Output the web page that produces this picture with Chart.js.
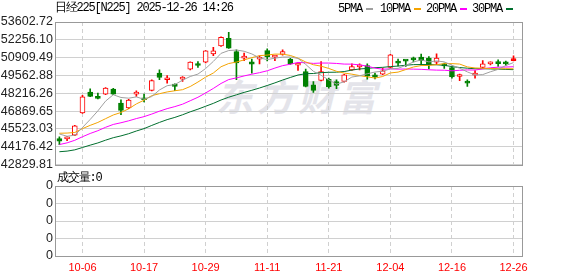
<!DOCTYPE html>
<html>
<head>
<meta charset="utf-8">
<script src="https://cdn.jsdelivr.net/npm/chart.js@4.4.1/dist/chart.umd.min.js"></script>
<style>
  body { margin: 0; background: #fff; }
  #box { position: relative; width: 578px; height: 276px; overflow: hidden; }
  .mark { position: absolute; left: 216px; top: 68px; font: italic bold 37px "Noto Sans CJK SC"; color: #e4e4ea; letter-spacing: 4px; white-space: nowrap; }
  canvas { position: absolute; left: 0; }
  .txt { position: absolute; font: 12px "Liberation Mono", monospace; letter-spacing: -1.2px; color: #000; white-space: nowrap; line-height: 14px; }
  .txt i { display: inline-block; width: 7px; height: 2px; margin-left: 4px; vertical-align: middle; }
</style>
</head>
<body>
<div id="box">
  <div class="mark">东方财富</div>
  <canvas id="kline" width="578" height="174" style="top:0"></canvas>
  <canvas id="vol" width="578" height="102" style="top:174px"></canvas>
  <div class="txt" style="left:55px;top:1px">日经225[N225] 2025-12-26 14:26</div>
  <div class="txt" style="left:338px;top:2px">5PMA<i style="background:#a0a0a0"></i></div>
  <div class="txt" style="left:380px;top:2px">10PMA<i style="background:#f4a300"></i></div>
  <div class="txt" style="left:426px;top:2px">20PMA<i style="background:#ff00ff"></i></div>
  <div class="txt" style="left:472px;top:2px">30PMA<i style="background:#006f2e"></i></div>
  <div class="txt" style="left:57px;top:171px">成交量:0</div>
</div>
<script>
const dates = ['10-01','10-02','10-03','10-06','10-07','10-08','10-09','10-10','10-14','10-15',
  '10-16','10-17','10-20','10-21','10-22','10-23','10-24','10-27','10-28','10-29',
  '10-30','10-31','11-04','11-05','11-06','11-07','11-10','11-11','11-12','11-13',
  '11-14','11-17','11-18','11-19','11-20','11-21','11-25','11-26','11-27','11-28',
  '12-01','12-02','12-03','12-04','12-05','12-08','12-09','12-10','12-11','12-12',
  '12-15','12-16','12-17','12-18','12-19','12-22','12-23','12-24','12-25','12-26'];

const open = [44789,44767,45038,46725,48307,47953,48156,48533,47478,47102,
  48156,47855,48428,49738,49234,48910,49286,50040,50439,50567,
  51192,51795,52375,51365,50868,50590,50793,51441,50944,51155,
  50793,50341,49859,48857,49181,49271,49106,49106,49987,50213,
  50311,49610,49663,50160,50575,50688,50793,50944,50868,50575,
  50341,50160,49482,49060,49588,50160,50439,50537,50514,50680];
const high = [44917,44940,45800,48050,48556,48232,48650,48580,47727,47750,
  48405,48156,49230,49987,49558,48932,49482,50600,50612,51450,
  51697,52480,52827,51494,51245,50793,51042,51569,51064,51494,
  50850,50537,50040,49106,50612,49362,49234,49650,50439,50439,
  50439,49738,50115,51150,50793,50700,50944,51170,50989,51192,
  50492,50200,49663,49234,49934,50688,50600,50740,50640,51042];
const low = [44337,44638,45000,46700,47950,47780,48100,48100,46597,47050,
  47976,47554,48400,49234,48985,48405,49106,49987,50160,50500,
  51064,51750,51600,49234,50688,49738,50439,50665,50688,51100,
  50400,49934,48700,48277,49150,48608,48556,49050,49950,49987,
  49286,49309,49620,50120,50288,50236,50590,50363,50062,50386,
  50085,49362,49158,48729,49362,50130,50363,50236,50311,50660];
const close = [44586,44917,45746,47953,47976,47825,48608,48156,46921,47704,
  48307,47727,49181,49407,49309,48729,49407,50567,50311,51418,
  51418,52450,51622,50514,50944,50416,50944,50989,51042,51365,
  50439,50416,48729,48428,49859,48706,48804,49610,50236,50288,
  49512,49460,49912,51117,50492,50642,50740,50688,50363,50868,
  50288,49460,49558,48985,49686,50439,50537,50461,50439,50793];

const ma5 = [45134,44966,45045,45627,46236,46883,47622,48104,47897,47843,
  47939,47763,47968,48465,48786,48871,49207,49484,49665,50086,
  50624,51233,51444,51484,51390,51189,50888,50761,50867,50951,
  50956,50850,50398,49875,49574,49228,48905,49081,49443,49529,
  49690,49821,49882,50058,50099,50325,50581,50736,50585,50660,
  50589,50333,50107,49832,49595,49626,49841,50022,50312,50534];
const ma10 = [45193,45206,45250,45541,45789,46009,46294,46574,46762,47039,
  47411,47692,48036,48181,48315,48405,48485,48726,49065,49436,
  49747,50220,50464,50575,50738,50907,51060,51103,51176,51170,
  51073,50869,50580,50371,50263,50092,49878,49740,49659,49552,
  49459,49363,49482,49750,49814,50007,50201,50309,50321,50379,
  50457,50457,50422,50208,50128,50108,50087,50065,50072,50065];
const ma20 = [44338,44468,44659,44927,45175,45384,45642,45858,45985,46132,
  46302,46449,46643,46861,47052,47207,47389,47650,47913,48238,
  48579,48956,49250,49378,49526,49656,49773,49914,50120,50303,
  50410,50544,50522,50473,50500,50499,50469,50421,50417,50361,
  50266,50116,50031,50061,50038,50050,50039,50024,49990,49965,
  49958,49910,49952,49979,49971,50057,50144,50187,50197,50222];
const ma30 = [43796,43842,43937,44115,44293,44461,44668,44856,44992,45158,
  45362,45543,45784,46012,46222,46391,46589,46814,47012,47233,
  47451,47706,47917,48099,48281,48440,48613,48801,49001,49215,
  49410,49594,49693,49709,49772,49801,49808,49856,49967,50053,
  50093,50151,50175,50232,50271,50335,50380,50384,50385,50367,
  50329,50230,50161,50110,50068,50069,50055,50038,50018,49999];

const priceTicks = [42829.81,44176.42,45523.03,46869.65,48216.26,49562.88,50909.49,52256.10,53602.72];
const dateTicks = ['10-06','10-17','10-29','11-11','11-21','12-04','12-16','12-26'];
const volumeTicks = ['0','0','0','0','0'];
const volume = [];

const RED = '#ff0000';
const GREEN = '#008000';
const GRID = '#d0d0d0';
const tickIdx = dateTicks.map(d => dates.indexOf(d));
const up = close.map((c, i) => c >= open[i]);
const candleColor = up.map(u => (u ? RED : GREEN));
// today's candle is still open, drawn solid
const bodyFill = up.map((u, i) => (i === dates.length - 1 ? RED : u ? '#ffffff' : GREEN));

// grey frame round the plot area
const framePlugin = {
  id: 'frame',
  afterDraw(chart) {
    const { ctx, chartArea: a } = chart;
    ctx.save();
    ctx.strokeStyle = '#999';
    ctx.lineWidth = 1;
    ctx.strokeRect(Math.round(a.left) + 0.5, Math.round(a.top) + 0.5,
      Math.round(a.right - a.left), Math.round(a.bottom - a.top));
    ctx.restore();
  },
};

const maLine = (label, values, color) => ({
  type: 'line',
  label,
  data: values.map((v, i) => ({ x: i, y: v })),
  borderColor: color,
  borderWidth: 1,
  pointRadius: 0,
  tension: 0,
  order: 0,
});

const xAxis = (showLabels) => ({
  type: 'linear',
  min: -0.57,
  max: 60.1,
  offset: false,
  afterBuildTicks: (s) => { s.ticks = tickIdx.map(v => ({ value: v })); },
  afterFit: (s) => { s.height = showLabels ? 20 : 0; },
  ticks: {
    display: showLabels,
    autoSkip: false,
    maxRotation: 0,
    padding: 5,
    color: RED,
    font: { family: 'Liberation Sans', size: 11 },
    callback: (v) => dates[v],
  },
  grid: { color: GRID, drawTicks: false, offset: false },
  border: { display: false, dash: [4, 3] },
});

const yTicks = (labelOf) => ({
  autoSkip: false,
  padding: 2,
  color: '#222',
  font: { family: 'Liberation Sans', size: 12.5 },
  callback: labelOf,
});

new Chart(document.getElementById('kline'), {
  type: 'bar',
  data: {
    datasets: [
      maLine('5PMA', ma5, '#a0a0a0'),
      maLine('10PMA', ma10, '#f4a300'),
      maLine('20PMA', ma20, '#ff00ff'),
      maLine('30PMA', ma30, '#006f2e'),
      {
        type: 'bar',
        label: 'body',
        data: dates.map((d, i) => ({ x: i, y: [open[i], close[i]] })),
        backgroundColor: bodyFill,
        borderColor: candleColor,
        borderWidth: 1,
        borderSkipped: false,
        barThickness: 5,
        minBarLength: 2,
        grouped: false,
        order: 1,
      },
      {
        type: 'bar',
        label: 'wick',
        data: dates.map((d, i) => ({ x: i, y: [low[i], high[i]] })),
        backgroundColor: candleColor,
        barThickness: 1,
        grouped: false,
        order: 2,
      },
    ],
  },
  options: {
    responsive: false,
    animation: false,
    layout: { padding: { left: 0, right: 56, top: 22, bottom: 9 } },
    plugins: { legend: { display: false }, tooltip: { enabled: false } },
    scales: {
      x: xAxis(false),
      y: {
        min: priceTicks[0],
        max: priceTicks[priceTicks.length - 1],
        afterBuildTicks: (s) => { s.ticks = priceTicks.map(v => ({ value: v })); },
        afterFit: (s) => { s.width = 55; },
        ticks: yTicks((v) => v.toFixed(2)),
        grid: { color: GRID, drawTicks: false },
        border: { display: false },
      },
    },
  },
  plugins: [framePlugin],
});

new Chart(document.getElementById('vol'), {
  type: 'bar',
  data: { datasets: [{ label: 'volume', data: volume, backgroundColor: RED }] },
  options: {
    responsive: false,
    animation: false,
    layout: { padding: { left: 0, right: 56, top: 12, bottom: 0 } },
    plugins: { legend: { display: false }, tooltip: { enabled: false } },
    scales: {
      x: xAxis(true),
      y: {
        min: 0,
        max: volumeTicks.length - 1,
        afterBuildTicks: (s) => { s.ticks = volumeTicks.map((t, i) => ({ value: i })); },
        afterFit: (s) => { s.width = 55; },
        ticks: yTicks((v, i) => volumeTicks[i]),
        grid: { color: GRID, drawTicks: false },
        border: { display: false },
      },
    },
  },
  plugins: [framePlugin],
});
</script>
</body>
</html>
